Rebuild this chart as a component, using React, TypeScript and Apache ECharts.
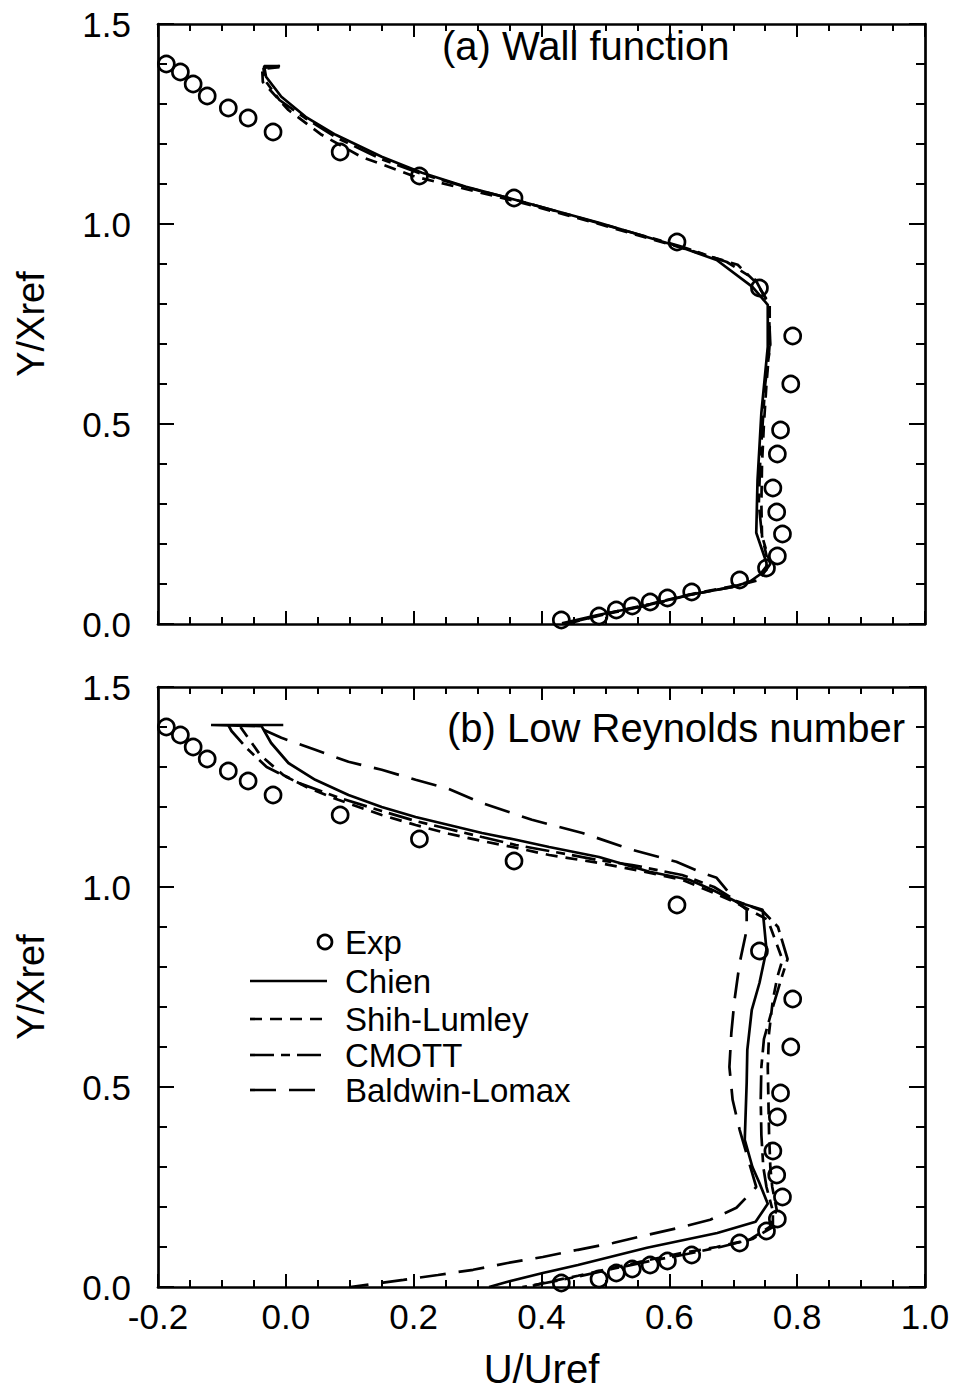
import React, { useEffect, useRef } from "react";
import * as echarts from "echarts";

// ---------- data (U/Uref, Y/Xref) ----------
const expU = [-0.187, -0.165, -0.145, -0.123, -0.09, -0.059, -0.02, 0.085, 0.209, 0.357, 0.612, 0.741, 0.793, 0.79, 0.774, 0.769, 0.762, 0.768, 0.777, 0.769, 0.752, 0.71, 0.635, 0.597, 0.57, 0.542, 0.517, 0.49, 0.431];
const expY = [1.40, 1.38, 1.35, 1.32, 1.29, 1.265, 1.23, 1.18, 1.12, 1.065, 0.955, 0.84, 0.72, 0.60, 0.485, 0.425, 0.34, 0.28, 0.225, 0.17, 0.14, 0.11, 0.08, 0.065, 0.055, 0.045, 0.035, 0.02, 0.01];

// (a) Wall function
const chienA = [[-0.009, 1.395], [-0.034, 1.395], [-0.031, 1.368], [-0.007, 1.318], [0.031, 1.268], [0.078, 1.223], [0.15, 1.168], [0.213, 1.128], [0.282, 1.093], [0.36, 1.06], [0.49, 1.003], [0.616, 0.943], [0.674, 0.91], [0.73, 0.843], [0.754, 0.798], [0.754, 0.693], [0.749, 0.61], [0.744, 0.528], [0.741, 0.443], [0.738, 0.36], [0.736, 0.228], [0.752, 0.153], [0.752, 0.135], [0.725, 0.105], [0.699, 0.093], [0.631, 0.073], [0.569, 0.048], [0.49, 0.023], [0.432, 0.002]];
const shihA = [[-0.01, 1.392], [-0.037, 1.388], [-0.036, 1.355], [0.004, 1.285], [0.056, 1.223], [0.118, 1.168], [0.203, 1.118], [0.275, 1.09], [0.36, 1.057], [0.49, 1.0], [0.62, 0.94], [0.707, 0.898], [0.736, 0.853], [0.757, 0.80], [0.757, 0.70], [0.752, 0.60], [0.748, 0.50], [0.745, 0.40], [0.744, 0.30], [0.745, 0.22], [0.755, 0.15], [0.735, 0.11], [0.70, 0.095], [0.635, 0.075], [0.57, 0.05], [0.49, 0.022], [0.44, 0.0]];
const cmottA = [[-0.01, 1.395], [-0.035, 1.39], [-0.033, 1.36], [-0.01, 1.31], [0.03, 1.265], [0.08, 1.215], [0.15, 1.162], [0.213, 1.125], [0.282, 1.092], [0.36, 1.06], [0.49, 1.002], [0.616, 0.945], [0.69, 0.905], [0.735, 0.86], [0.755, 0.80], [0.758, 0.70], [0.75, 0.60], [0.746, 0.50], [0.742, 0.40], [0.74, 0.30], [0.745, 0.22], [0.758, 0.15], [0.74, 0.11], [0.70, 0.093], [0.63, 0.072], [0.57, 0.048], [0.49, 0.021], [0.435, 0.0]];

// (b) Low Reynolds number
const chienB = [[-0.004, 1.405], [-0.117, 1.405], [-0.038, 1.402], [-0.023, 1.36], [0.004, 1.31], [0.046, 1.268], [0.098, 1.23], [0.15, 1.20], [0.203, 1.175], [0.255, 1.155], [0.307, 1.135], [0.36, 1.118], [0.412, 1.10], [0.49, 1.075], [0.569, 1.038], [0.631, 1.018], [0.667, 0.993], [0.705, 0.963], [0.746, 0.943], [0.752, 0.843], [0.741, 0.76], [0.729, 0.693], [0.722, 0.593], [0.721, 0.51], [0.718, 0.368], [0.73, 0.30], [0.741, 0.26], [0.754, 0.208], [0.735, 0.163], [0.675, 0.135], [0.565, 0.098], [0.457, 0.055], [0.402, 0.035], [0.347, 0.013], [0.318, 0.0]];
const shihB = [[-0.071, 1.4], [-0.04, 1.33], [-0.004, 1.28], [0.035, 1.248], [0.082, 1.218], [0.15, 1.18], [0.203, 1.155], [0.255, 1.133], [0.307, 1.115], [0.36, 1.098], [0.412, 1.08], [0.49, 1.06], [0.555, 1.04], [0.62, 1.018], [0.67, 0.985], [0.705, 0.96], [0.754, 0.918], [0.777, 0.818], [0.769, 0.775], [0.762, 0.718], [0.756, 0.635], [0.754, 0.55], [0.755, 0.468], [0.756, 0.385], [0.758, 0.30], [0.761, 0.25], [0.768, 0.193], [0.757, 0.15], [0.725, 0.118], [0.674, 0.10], [0.62, 0.085], [0.569, 0.068], [0.512, 0.048], [0.457, 0.028], [0.402, 0.01], [0.38, 0.0]];
const cmottB = [[-0.09, 1.405], [-0.085, 1.39], [-0.06, 1.345], [-0.03, 1.30], [0.02, 1.26], [0.08, 1.225], [0.15, 1.19], [0.203, 1.165], [0.255, 1.145], [0.307, 1.125], [0.36, 1.105], [0.412, 1.09], [0.49, 1.067], [0.542, 1.055], [0.62, 1.03], [0.67, 1.0], [0.705, 0.965], [0.746, 0.94], [0.77, 0.90], [0.785, 0.82], [0.775, 0.77], [0.762, 0.70], [0.748, 0.62], [0.744, 0.55], [0.743, 0.47], [0.744, 0.38], [0.747, 0.30], [0.752, 0.25], [0.762, 0.19], [0.762, 0.15], [0.73, 0.12], [0.68, 0.10], [0.62, 0.08], [0.57, 0.065], [0.51, 0.045], [0.46, 0.027], [0.40, 0.008], [0.37, 0.0]];
const baldwinB = [[-0.035, 1.393], [-0.007, 1.373], [0.046, 1.343], [0.098, 1.313], [0.15, 1.293], [0.203, 1.268], [0.255, 1.245], [0.307, 1.21], [0.385, 1.168], [0.464, 1.135], [0.542, 1.093], [0.611, 1.063], [0.652, 1.035], [0.674, 1.023], [0.705, 0.963], [0.721, 0.943], [0.721, 0.893], [0.71, 0.81], [0.702, 0.718], [0.697, 0.635], [0.694, 0.55], [0.699, 0.468], [0.71, 0.393], [0.725, 0.31], [0.736, 0.25], [0.705, 0.198], [0.664, 0.168], [0.62, 0.15], [0.565, 0.13], [0.512, 0.11], [0.457, 0.093], [0.402, 0.075], [0.347, 0.06], [0.293, 0.043], [0.238, 0.03], [0.184, 0.018], [0.101, 0.0]];

const panelTitles = ["(a) Wall function", "(b) Low Reynolds number"];
const legendNames = ["Exp", "Chien", "Shih-Lumley", "CMOTT", "Baldwin-Lomax"];

// ---------- styles ----------
const FONT = "Liberation Sans, Arial, Helvetica, sans-serif";
const INK = "#000";
const LW = 2.7;
const dashes: Record<string, any> = {
  Chien: "solid",
  "Shih-Lumley": [12, 8],
  CMOTT: [24, 7, 9, 7],
  "Baldwin-Lomax": [26, 13],
};

const GRID_LEFT = 158;
const GRID_W = 767;
const GRID_H = 600;
const TOPS = [24, 687];

export default function App() {
  const ref = useRef<HTMLDivElement>(null);

  useEffect(() => {
    if (!ref.current) return;
    const chart = echarts.init(ref.current, undefined, { renderer: "svg" });

    const expData = expU.map((u, i) => [u, expY[i]]);

    const grids = TOPS.map((t) => ({ left: GRID_LEFT, top: t, width: GRID_W, height: GRID_H }));

    const xAxes: any[] = [];
    const yAxes: any[] = [];
    [0, 1].forEach((g) => {
      const showLabel = g === 1;
      xAxes.push({
        type: "value",
        gridIndex: g,
        position: "bottom",
        min: -0.2,
        max: 1.0,
        interval: 0.2,
        name: showLabel ? "U/Uref" : "",
        nameLocation: "middle",
        nameGap: 62,
        nameTextStyle: { fontFamily: FONT, fontSize: 40, color: INK },
        axisLine: { show: true, onZero: false, lineStyle: { color: INK, width: LW } },
        axisTick: { show: true, inside: true, length: 13, lineStyle: { color: INK, width: 2 } },
        minorTick: { show: true, splitNumber: 4, length: 7, lineStyle: { color: INK, width: 2 } },
        axisLabel: {
          show: showLabel,
          margin: 12,
          fontFamily: FONT,
          fontSize: 35,
          color: INK,
          formatter: (v: number) => v.toFixed(1),
        },
        splitLine: { show: false },
        minorSplitLine: { show: false },
      });
      xAxes.push({
        type: "value",
        gridIndex: g,
        position: "top",
        min: -0.2,
        max: 1.0,
        interval: 0.2,
        axisLine: { show: true, onZero: false, lineStyle: { color: INK, width: LW } },
        axisTick: { show: true, inside: true, length: 13, lineStyle: { color: INK, width: 2 } },
        minorTick: { show: true, splitNumber: 4, length: 7, lineStyle: { color: INK, width: 2 } },
        axisLabel: { show: false },
        splitLine: { show: false },
      });
      yAxes.push({
        type: "value",
        gridIndex: g,
        position: "left",
        min: 0,
        max: 1.5,
        interval: 0.5,
        name: "Y/Xref",
        nameLocation: "middle",
        nameGap: 108,
        nameRotate: 90,
        nameTextStyle: { fontFamily: FONT, fontSize: 38, color: INK },
        axisLine: { show: true, onZero: false, lineStyle: { color: INK, width: LW } },
        axisTick: { show: true, inside: true, length: 16, lineStyle: { color: INK, width: 2 } },
        minorTick: { show: true, splitNumber: 5, length: 9, lineStyle: { color: INK, width: 2 } },
        axisLabel: {
          show: true,
          margin: 27,
          fontFamily: FONT,
          fontSize: 35,
          color: INK,
          formatter: (v: number) => v.toFixed(1),
        },
        splitLine: { show: false },
      });
      yAxes.push({
        type: "value",
        gridIndex: g,
        position: "right",
        min: 0,
        max: 1.5,
        interval: 0.5,
        axisLine: { show: true, onZero: false, lineStyle: { color: INK, width: LW } },
        axisTick: { show: true, inside: true, length: 16, lineStyle: { color: INK, width: 2 } },
        minorTick: { show: true, splitNumber: 5, length: 9, lineStyle: { color: INK, width: 2 } },
        axisLabel: { show: false },
        splitLine: { show: false },
      });
    });

    const lineSeries = (name: string, data: number[][], g: number) => ({
      type: "line",
      name,
      xAxisIndex: g * 2,
      yAxisIndex: g * 2,
      data,
      showSymbol: false,
      symbol: "none",
      smooth: false,
      clip: true,
      lineStyle: { color: INK, width: LW, type: dashes[name] },
      z: 3,
    });
    const expSeries = (g: number) => ({
      type: "scatter",
      name: "Exp",
      xAxisIndex: g * 2,
      yAxisIndex: g * 2,
      data: expData,
      symbol: "circle",
      symbolSize: 16,
      itemStyle: { color: "rgba(255,255,255,0)", borderColor: INK, borderWidth: 2.7, opacity: 1 },
      z: 4,
    });

    const series: any[] = [
      expSeries(0),
      lineSeries("Chien", chienA, 0),
      lineSeries("Shih-Lumley", shihA, 0),
      lineSeries("CMOTT", cmottA, 0),
      expSeries(1),
      lineSeries("Chien", chienB, 1),
      lineSeries("Shih-Lumley", shihB, 1),
      lineSeries("CMOTT", cmottB, 1),
      lineSeries("Baldwin-Lomax", baldwinB, 1),
    ];

    const LX0 = 250;
    const LX1 = 327;
    const TX = 345;
    const rowsY = [942, 981, 1019, 1055, 1090];
    const legendGraphics: any[] = [];
    legendNames.forEach((n, i) => {
      const y = rowsY[i];
      if (n === "Exp") {
        legendGraphics.push({
          type: "circle",
          shape: { cx: 325, cy: y, r: 7 },
          style: { fill: "none", stroke: INK, lineWidth: 2.7 },
        });
      } else {
        const d = dashes[n];
        legendGraphics.push({
          type: "line",
          shape: { x1: LX0, y1: y, x2: LX1, y2: y },
          style: { stroke: INK, lineWidth: LW, lineDash: d === "solid" ? null : d },
        });
      }
      legendGraphics.push({
        type: "text",
        x: TX,
        y,
        style: {
          text: n,
          font: `33px ${FONT}`,
          fill: INK,
          textVerticalAlign: "middle",
          verticalAlign: "middle",
        },
      });
    });

    const titleGraphics = panelTitles.map((t, i) => ({
      type: "text",
      x: i === 0 ? 442 : 447,
      y: i === 0 ? 46 : 728,
      style: {
        text: t,
        font: `40px ${FONT}`,
        fill: INK,
        textVerticalAlign: "middle",
        verticalAlign: "middle",
      },
    }));

    chart.setOption({
      animation: false,
      backgroundColor: "#fff",
      grid: grids,
      xAxis: xAxes,
      yAxis: yAxes,
      series,
      graphic: [...titleGraphics, ...legendGraphics],
    });

    return () => chart.dispose();
  }, []);

  return (
    <div
      ref={ref}
      style={{ position: "absolute", left: 0, top: 0, width: 958, height: 1395, background: "#fff" }}
    />
  );
}
